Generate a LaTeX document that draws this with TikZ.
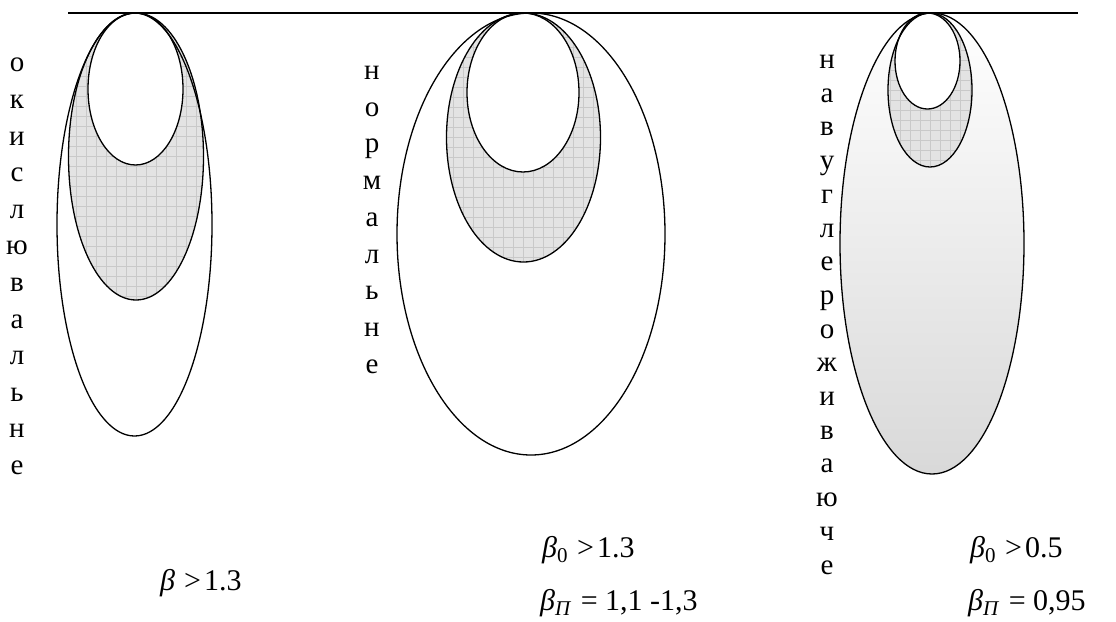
\documentclass[tikz,border=0pt]{standalone}
\usepackage{fontspec}
\setmainfont{Liberation Serif}
\tikzset{
  outline/.style={draw=black, line width=1.3pt},
  vert/.style={align=center, anchor=north, inner sep=0pt},
  lab/.style={anchor=base west, font=\fontsize{30}{36}\selectfont, inner sep=0pt},
}
\newcommand\hatchfill[4]{%
  \begin{scope}
    \clip (#1,#2) ellipse [x radius=#3pt, y radius=#4pt];
    \fill[gray!22] ({#1-#3},{#2-#4}) rectangle ({#1+#3},{#2+#4});
    \foreach \k in {-22,...,22} {
      \draw[gray!42, line width=0.5pt] ({#1+10*\k},{#2-#4}) -- ({#1+10*\k},{#2+#4});
      \draw[gray!42, line width=0.5pt] ({#1-#3},{#2+10*\k}) -- ({#1+#3},{#2+10*\k});
    }
  \end{scope}}
\begin{document}
\begin{tikzpicture}[x=1pt, y=-1pt]
\useasboundingbox (0,0) rectangle (1116,621);
% ---- left group
\fill[white] (134.5,224.5) ellipse [x radius=77.5pt, y radius=211.5pt];
\hatchfill{136}{156.5}{67.5}{143.5}
\fill[white] (135.5,89) ellipse [x radius=47.5pt, y radius=76pt];
\draw[outline] (134.5,224.5) ellipse [x radius=77.5pt, y radius=211.5pt];
\draw[outline] (136,156.5) ellipse [x radius=67.5pt, y radius=143.5pt];
\draw[outline] (135.5,89) ellipse [x radius=47.5pt, y radius=76pt];
% ---- middle group
\fill[white] (531,234) ellipse [x radius=134pt, y radius=221pt];
\hatchfill{523.5}{137.5}{77}{124.5}
\fill[white] (523,92.5) ellipse [x radius=56pt, y radius=79.5pt];
\draw[outline] (531,234) ellipse [x radius=134pt, y radius=221pt];
\draw[outline] (523.5,137.5) ellipse [x radius=77pt, y radius=124.5pt];
\draw[outline] (523,92.5) ellipse [x radius=56pt, y radius=79.5pt];
% ---- right group
\shade[top color=white, bottom color=gray!30] (932,243.5) ellipse [x radius=92pt, y radius=230.5pt];
\hatchfill{930}{90}{42}{77}
\fill[white] (927.5,61) ellipse [x radius=32.5pt, y radius=48pt];
\draw[outline] (932,243.5) ellipse [x radius=92pt, y radius=230.5pt];
\draw[outline] (930,90) ellipse [x radius=42pt, y radius=77pt];
\draw[outline] (927.5,61) ellipse [x radius=32.5pt, y radius=48pt];
% ---- top line
\coordinate (tl) at (68,13);
\coordinate (tr) at (1078,13);
\draw[line width=1.3pt] (tl) -- (tr);
% ---- vertical words
\node[vert, font=\fontsize{29}{36.6}\selectfont] (w1) at (17,58) {о\\к\\и\\с\\л\\ю\\в\\а\\л\\ь\\н\\е};
\node[vert, font=\fontsize{29}{36.7}\selectfont] (w2) at (372,66) {н\\о\\р\\м\\а\\л\\ь\\н\\е};
\node[vert, font=\fontsize{29}{33.7}\selectfont] (w3) at (827,55) {н\\а\\в\\у\\г\\л\\е\\р\\о\\ж\\и\\в\\а\\ю\\ч\\е};
% ---- labels
\node[lab] (l1) at (160,590) {\textit{β}\hspace{0.3em}>\hspace{0.1em}1.3};
\node[lab] (l2) at (542,557) {\textit{β}\textsubscript{0}\hspace{0.3em}>\hspace{0.1em}1.3};
\node[lab] (l3) at (540,610) {\textit{β}\textsubscript{\textit{П}}\hspace{0.3em}=\hspace{0.25em}1,1 -1,3};
\node[lab] (l4) at (970,557) {\textit{β}\textsubscript{0}\hspace{0.3em}>\hspace{0.1em}0.5};
\node[lab] (l5) at (968,610) {\textit{β}\textsubscript{\textit{П}}\hspace{0.3em}=\hspace{0.25em}0,95};
\end{tikzpicture}
\end{document}
